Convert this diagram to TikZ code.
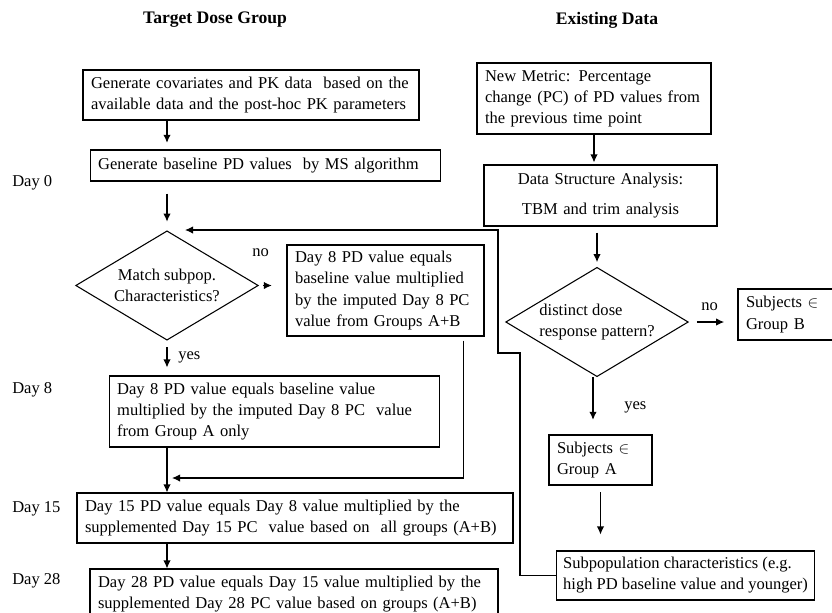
\documentclass[tikz,border=0pt]{standalone}
\usepackage{fontspec}
\setmainfont{Liberation Serif}
\usetikzlibrary{shapes.geometric,arrows.meta}

\tikzset{
  x=0.75pt, y=-0.75pt,
  txt/.style={font=\fontsize{12.4}{15.8}\selectfont},
  box/.style={txt, draw, line width=0.8pt, align=left, inner xsep=6pt, inner ysep=2pt},
  decide/.style={txt, draw, line width=0.8pt, diamond, shape aspect=1.7, inner sep=0pt,
    minimum width=137pt, minimum height=82pt},
  lbl/.style={txt, anchor=west, inner sep=0pt},
  head/.style={font=\fontsize{13.2}{16}\selectfont\bfseries},
  arr/.style={line width=0.8pt, -{Latex[length=6pt,width=5.5pt]}},
}

\begin{document}
\begin{tikzpicture}
  \useasboundingbox (0,0) rectangle (832,612);

  % column headings
  \node[head] (head1) at (215,20) {Target Dose Group};
  \node[head] (head2) at (607,20) {Existing Data};

  % day labels
  \node[lbl] (day0) at (12,183) {Day 0};
  \node[lbl] (day8) at (12,390) {Day 8};
  \node[lbl] (day15) at (12,509) {Day 15};
  \node[lbl] (day28) at (12,581) {Day 28};

  % target dose group
  \node[box, text width=240pt, minimum height=37.5pt] (gen) at (251,95)
    {Generate covariates and PK data\ \ based on the\\available data and the post-hoc PK parameters};
  \node[box, text width=251pt, minimum height=23.25pt] (base) at (265.5,165.5)
    {Generate baseline PD values\ \ by MS algorithm};
  \node[decide, align=center] (match) at (167,285.5) {Match subpop.\\Characteristics?};
  \node[box, text width=135.75pt, minimum height=68.25pt] (imput) at (385.5,290.5)
    {Day 8 PD value equals\\baseline value multiplied\\by the imputed Day 8 PC\\value from Groups A+B};
  \node[box, text width=236pt, minimum height=53.25pt] (onlya) at (274.5,411.5)
    {Day 8 PD value equals baseline value\\multiplied by the imputed Day 8 PC\ \ value\\from Group A only};
  \node[box, text width=315pt, minimum height=37.5pt] (all15) at (295,518)
    {Day 15 PD value equals Day 8 value multiplied by the\\supplemented Day 15 PC\ \ value based on\ \ all groups (A+B)};
  \node[box, text width=294pt, minimum height=37.5pt] (all28) at (294,594)
    {Day 28 PD value equals Day 15 value multiplied by the\\supplemented Day 28 PC value based on groups (A+B)};

  % existing data
  \node[box, text width=163.5pt, minimum height=53.25pt] (metric) at (594,98.5)
    {New Metric: Percentage\\change (PC) of PD values from\\the previous time point};
  \node[box, align=center, text width=162.75pt, minimum height=45.75pt] (dsa) at (600.5,195.5)
    {Data Structure Analysis:\\[7pt]TBM and trim analysis};
  \node[decide, align=left] (dist) at (597,322) {distinct dose\\response pattern?};
  \node[box, text width=68.25pt, minimum height=38.25pt] (grpb) at (791.5,314.5)
    {Subjects $\in$\\Group B};
  \node[box, text width=65.25pt, minimum height=37.5pt] (grpa) at (600.5,460)
    {Subjects $\in$\\Group A};
  \node[box, inner xsep=5pt, minimum height=36.75pt, anchor=west] (subpop) at (556,575.5)
    {Subpopulation characteristics (e.g.\\high PD baseline value and younger)};

  \node[lbl] (no1) at (252,253) {no};
  \node[lbl] (yes1) at (178,357) {yes};
  \node[lbl] (no2) at (701,307) {no};
  \node[lbl] (yes2) at (624,407) {yes};

  \coordinate (back) at (185,230);
  \coordinate (merge) at (172,478);

  % connectors
  \draw[arr, shorten >=5pt] (match.north |- gen.south) -- (match.north |- base.north);
  \draw[arr, shorten <=9pt, shorten >=6.5pt] (match.north |- base.south) -- (match.north);
  \draw[arr, shorten <=3pt, shorten >=11pt] (match.east) -- (imput.west |- match.east);
  \draw[arr, shorten <=5pt, shorten >=6pt] (match.south) -- (match.south |- onlya.north);
  \draw[arr] (match.south |- onlya.south) -- (match.south |- all15.north);
  \draw[arr] ([xshift=-16pt, yshift=-3pt]imput.south east) |- (merge);
  \draw[arr] (match.south |- all15.south) -- (match.south |- all28.north);

  \draw[arr, shorten >=1.5pt] (metric.south) -- (metric.south |- dsa.north);
  \draw[arr, shorten <=4.5pt, shorten >=3.5pt] (dist.north |- dsa.south) -- (dist.north);
  \draw[arr, shorten <=6pt, shorten >=10pt] (dist.east) -- (grpb.west |- dist.east);
  \draw[arr, shorten >=11pt] ([xshift=-3pt]dist.south) -- ([xshift=-3pt]dist.south |- grpa.north);
  \draw[arr, shorten <=5pt, shorten >=12pt] (grpa.south) -- (grpa.south |- subpop.north);
  \draw[arr] (subpop.west) -| (520,353) -| (498,230) -- (back);
\end{tikzpicture}
\end{document}
